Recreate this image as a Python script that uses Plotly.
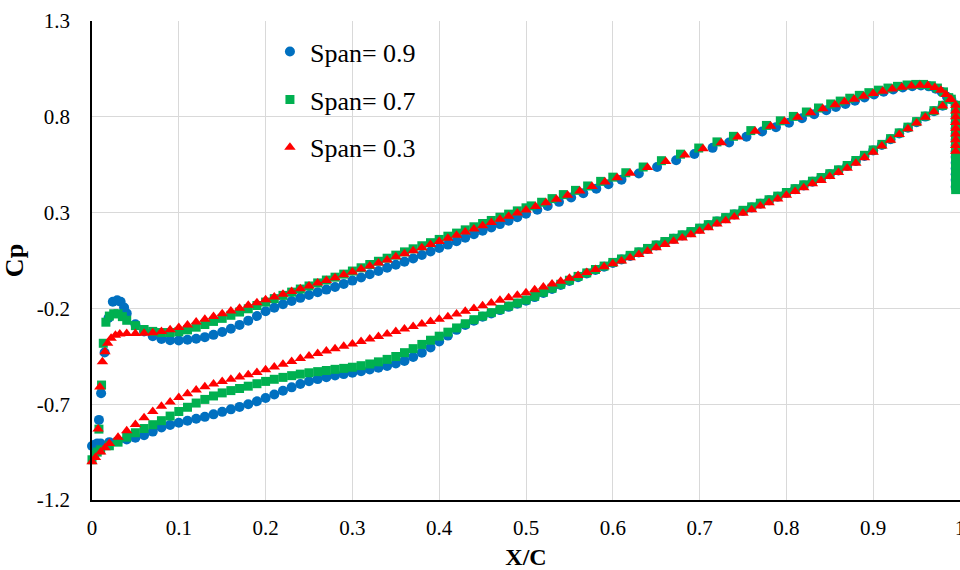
import plotly.graph_objects as go

# ---------------- data ----------------
series_names = ["Span= 0.9", "Span= 0.7", "Span= 0.3"]

x_ticks = [0.0, 0.1, 0.2, 0.3, 0.4, 0.5, 0.6, 0.7, 0.8, 0.9, 1.0]
x_tick_labels = ["0", "0.1", "0.2", "0.3", "0.4", "0.5", "0.6", "0.7", "0.8", "0.9", "1"]
y_ticks = [-1.2, -0.7, -0.2, 0.3, 0.8, 1.3]
y_tick_labels = ["-1.2", "-0.7", "-0.2", "0.3", "0.8", "1.3"]

# upper (suction) branch, forward part: common stations
x_upper_fore = [0.04, 0.05, 0.06, 0.07, 0.08, 0.09, 0.10, 0.11, 0.12, 0.13,
                0.14, 0.15, 0.16, 0.17, 0.18, 0.19, 0.20, 0.21, 0.22, 0.23,
                0.24, 0.25, 0.26, 0.27, 0.28, 0.29, 0.30, 0.31, 0.32, 0.33,
                0.34, 0.35, 0.36, 0.37, 0.38, 0.39, 0.40, 0.41, 0.42, 0.43,
                0.44, 0.45, 0.46, 0.47, 0.48, 0.49, 0.50]

# lower branch stations (common)
x_lower = [0.01, 0.02, 0.03, 0.04, 0.05, 0.06, 0.07, 0.08, 0.09, 0.10, 0.11, 0.12,
           0.13, 0.14, 0.15, 0.16, 0.17, 0.18, 0.19, 0.20, 0.21, 0.22, 0.23, 0.24,
           0.25, 0.26, 0.27, 0.28, 0.29, 0.30, 0.31, 0.32, 0.33, 0.34, 0.35, 0.36,
           0.37, 0.38, 0.39, 0.40, 0.41, 0.42, 0.43, 0.44, 0.45, 0.46, 0.47, 0.48,
           0.49, 0.50, 0.51, 0.52, 0.53, 0.54, 0.55, 0.56, 0.57, 0.58, 0.59, 0.60,
           0.61, 0.62, 0.63, 0.64, 0.65, 0.66, 0.67, 0.68, 0.69, 0.70, 0.71, 0.72,
           0.73, 0.74, 0.75, 0.76, 0.77, 0.78, 0.79, 0.80, 0.81, 0.82, 0.83, 0.84,
           0.85, 0.86, 0.87, 0.88, 0.89, 0.90, 0.91, 0.92, 0.93, 0.94, 0.95, 0.96,
           0.97, 0.98, 0.99]

# ---- Span = 0.9 (blue circles)
span09_le_x = [-0.004, 0.000, 0.003, 0.006, 0.008, 0.0105, 0.0145, 0.019, 0.024, 0.029, 0.033, 0.037]
span09_le_y = [-0.905, -0.918, -0.912, -0.905, -0.782, -0.643, -0.430, -0.250, -0.165, -0.158, -0.165, -0.195]
span09_upper_fore = [-0.226, -0.283, -0.320, -0.345, -0.360, -0.366, -0.367, -0.364, -0.358, -0.350,
                     -0.338, -0.323, -0.306, -0.286, -0.264, -0.240, -0.215, -0.196, -0.178, -0.161,
                     -0.145, -0.130, -0.116, -0.102, -0.088, -0.072, -0.055, -0.039, -0.022, -0.005,
                     0.012, 0.028, 0.044, 0.061, 0.079, 0.097, 0.115, 0.133, 0.151, 0.169,
                     0.187, 0.205, 0.222, 0.240, 0.258, 0.276, 0.294]
span09_upper_aft_x = [0.513, 0.525, 0.538, 0.552, 0.566, 0.581, 0.595, 0.610, 0.630, 0.651,
                      0.673, 0.694, 0.715, 0.734, 0.754, 0.772, 0.788, 0.803, 0.818, 0.832,
                      0.846, 0.857, 0.868, 0.879, 0.890, 0.901, 0.912, 0.923, 0.934, 0.945,
                      0.955, 0.964, 0.972, 0.979, 0.985]
span09_upper_aft_y = [0.315, 0.335, 0.356, 0.379, 0.401, 0.425, 0.448, 0.472, 0.504, 0.538,
                      0.573, 0.606, 0.638, 0.666, 0.696, 0.723, 0.746, 0.769, 0.792, 0.813,
                      0.834, 0.851, 0.867, 0.884, 0.901, 0.917, 0.931, 0.943, 0.953, 0.960,
                      0.963, 0.959, 0.947, 0.930, 0.905]
span09_lower = [-0.905, -0.898, -0.891, -0.884, -0.875, -0.862, -0.843, -0.822, -0.808, -0.797,
                -0.786, -0.776, -0.766, -0.753, -0.740, -0.727, -0.714, -0.700, -0.685, -0.668,
                -0.649, -0.630, -0.612, -0.595, -0.580, -0.569, -0.559, -0.550, -0.543, -0.536,
                -0.528, -0.519, -0.510, -0.500, -0.488, -0.474, -0.454, -0.431, -0.404, -0.373,
                -0.342, -0.312, -0.286, -0.264, -0.244, -0.226, -0.209, -0.192, -0.176, -0.160,
                -0.141, -0.120, -0.099, -0.078, -0.057, -0.037, -0.018, 0.000, 0.018, 0.037,
                0.055, 0.074, 0.092, 0.110, 0.128, 0.146, 0.163, 0.181, 0.198, 0.216,
                0.234, 0.253, 0.271, 0.290, 0.309, 0.327, 0.346, 0.364, 0.383, 0.402,
                0.422, 0.442, 0.461, 0.480, 0.500, 0.520, 0.543, 0.569, 0.596, 0.624,
                0.653, 0.683, 0.713, 0.743, 0.772, 0.801, 0.829, 0.858, 0.890]
span09_te_x = [0.995, 0.995, 0.995, 0.995, 0.995, 0.995, 0.995, 0.995, 0.995, 0.995, 0.995, 0.995, 0.995, 0.995, 0.995]
span09_te_y = [0.860, 0.830, 0.800, 0.770, 0.740, 0.710, 0.680, 0.650, 0.620, 0.590, 0.560, 0.530, 0.500, 0.470, 0.435]

# ---- Span = 0.7 (green squares)
span07_le_x = [0.000, 0.003, 0.006, 0.008, 0.011, 0.013, 0.016, 0.020, 0.025, 0.030, 0.035]
span07_le_y = [-0.990, -0.964, -0.950, -0.830, -0.600, -0.382, -0.272, -0.240, -0.228, -0.228, -0.243]
span07_upper_fore = [-0.262, -0.290, -0.310, -0.320, -0.326, -0.326, -0.322, -0.312, -0.298, -0.284,
                     -0.268, -0.252, -0.236, -0.219, -0.202, -0.185, -0.167, -0.149, -0.132, -0.115,
                     -0.099, -0.083, -0.067, -0.052, -0.037, -0.021, -0.005, 0.012, 0.029, 0.046,
                     0.062, 0.078, 0.095, 0.111, 0.127, 0.143, 0.160, 0.177, 0.193, 0.210,
                     0.226, 0.243, 0.259, 0.276, 0.292, 0.309, 0.325]
span07_upper_aft_x = [0.506, 0.518, 0.530, 0.543, 0.557, 0.571, 0.586, 0.600, 0.615, 0.635,
                      0.656, 0.678, 0.699, 0.720, 0.739, 0.759, 0.777, 0.793, 0.808, 0.823,
                      0.837, 0.851, 0.862, 0.873, 0.884, 0.895, 0.906, 0.917, 0.928, 0.939,
                      0.949, 0.958, 0.967, 0.974, 0.981, 0.987]
span07_upper_aft_y = [0.335, 0.354, 0.373, 0.394, 0.416, 0.439, 0.463, 0.485, 0.508, 0.538,
                      0.571, 0.605, 0.637, 0.669, 0.698, 0.728, 0.755, 0.779, 0.802, 0.825,
                      0.846, 0.867, 0.882, 0.897, 0.912, 0.926, 0.939, 0.950, 0.959, 0.966,
                      0.969, 0.969, 0.962, 0.950, 0.930, 0.900]
span07_lower = [-0.938, -0.917, -0.898, -0.872, -0.849, -0.827, -0.807, -0.786, -0.762, -0.738,
                -0.716, -0.694, -0.675, -0.657, -0.641, -0.629, -0.618, -0.606, -0.593, -0.581,
                -0.570, -0.560, -0.551, -0.543, -0.536, -0.530, -0.524, -0.518, -0.513, -0.507,
                -0.499, -0.490, -0.479, -0.466, -0.451, -0.431, -0.410, -0.388, -0.366, -0.345,
                -0.324, -0.302, -0.280, -0.259, -0.240, -0.222, -0.205, -0.188, -0.172, -0.156,
                -0.137, -0.116, -0.095, -0.074, -0.053, -0.033, -0.015, 0.003, 0.021, 0.040,
                0.058, 0.077, 0.095, 0.113, 0.131, 0.149, 0.166, 0.184, 0.201, 0.219,
                0.237, 0.256, 0.274, 0.293, 0.312, 0.330, 0.349, 0.367, 0.386, 0.405,
                0.425, 0.445, 0.464, 0.483, 0.503, 0.523, 0.546, 0.572, 0.599, 0.627,
                0.656, 0.686, 0.716, 0.746, 0.775, 0.804, 0.832, 0.860, 0.892]
span07_te_x = [0.995, 0.995, 0.995, 0.995, 0.995, 0.995, 0.995, 0.995, 0.995, 0.995, 0.995, 0.995, 0.995, 0.995, 0.995, 0.995]
span07_te_y = [0.860, 0.830, 0.800, 0.770, 0.740, 0.710, 0.680, 0.650, 0.620, 0.590, 0.560, 0.530, 0.500, 0.470, 0.440, 0.420]

# ---- Span = 0.3 (red triangles)
span03_le_x = [0.000, 0.004, 0.007, 0.009, 0.012, 0.015, 0.015, 0.018, 0.022, 0.027, 0.032]
span03_le_y = [-1.000, -0.978, -0.830, -0.610, -0.478, -0.426, -0.927, -0.382, -0.356, -0.340, -0.333]
span03_upper_fore = [-0.331, -0.331, -0.330, -0.327, -0.321, -0.312, -0.300, -0.286, -0.271, -0.257,
                     -0.242, -0.228, -0.213, -0.199, -0.184, -0.170, -0.155, -0.141, -0.126, -0.112,
                     -0.097, -0.083, -0.068, -0.054, -0.040, -0.025, -0.010, 0.005, 0.021, 0.037,
                     0.053, 0.069, 0.085, 0.101, 0.117, 0.133, 0.149, 0.166, 0.182, 0.199,
                     0.215, 0.232, 0.248, 0.265, 0.281, 0.298, 0.314]
span03_upper_aft_x = [0.511, 0.523, 0.535, 0.548, 0.562, 0.576, 0.591, 0.605, 0.620, 0.640,
                      0.661, 0.683, 0.704, 0.725, 0.744, 0.764, 0.782, 0.798, 0.813, 0.828,
                      0.842, 0.856, 0.867, 0.878, 0.889, 0.900, 0.911, 0.922, 0.933, 0.944,
                      0.954, 0.963, 0.971, 0.978, 0.984, 0.989]
span03_upper_aft_y = [0.332, 0.351, 0.370, 0.391, 0.413, 0.436, 0.460, 0.482, 0.505, 0.535,
                      0.567, 0.601, 0.633, 0.665, 0.694, 0.724, 0.751, 0.775, 0.798, 0.821,
                      0.842, 0.863, 0.878, 0.892, 0.907, 0.921, 0.934, 0.945, 0.954, 0.961,
                      0.965, 0.963, 0.953, 0.938, 0.916, 0.892]
span03_lower = [-0.950, -0.905, -0.872, -0.838, -0.806, -0.771, -0.738, -0.711, -0.688, -0.665,
                -0.645, -0.626, -0.609, -0.595, -0.582, -0.570, -0.558, -0.546, -0.534, -0.520,
                -0.506, -0.492, -0.477, -0.462, -0.448, -0.435, -0.422, -0.410, -0.398, -0.386,
                -0.373, -0.360, -0.347, -0.334, -0.321, -0.308, -0.295, -0.282, -0.269, -0.256,
                -0.243, -0.229, -0.215, -0.200, -0.186, -0.172, -0.158, -0.145, -0.132, -0.118,
                -0.103, -0.088, -0.073, -0.058, -0.043, -0.028, -0.012, 0.003, 0.018, 0.033,
                0.048, 0.064, 0.081, 0.098, 0.116, 0.133, 0.150, 0.168, 0.185, 0.203,
                0.221, 0.240, 0.258, 0.277, 0.296, 0.315, 0.334, 0.352, 0.371, 0.390,
                0.410, 0.430, 0.450, 0.468, 0.488, 0.509, 0.532, 0.558, 0.586, 0.615,
                0.647, 0.677, 0.707, 0.738, 0.768, 0.797, 0.826, 0.856, 0.890]
span03_te_x = [0.995, 0.995, 0.995, 0.995, 0.995, 0.995, 0.995, 0.995, 0.995]
span03_te_y = [0.860, 0.830, 0.800, 0.770, 0.740, 0.710, 0.680, 0.650, 0.620]

colors = ["#0070C0", "#00B050", "#FF0000"]
symbols = ["circle", "square", "triangle-up"]
sizes = [10, 9, 10]

series = [
    (span09_le_x, span09_le_y, span09_upper_fore, span09_upper_aft_x, span09_upper_aft_y,
     span09_lower, span09_te_x, span09_te_y),
    (span07_le_x, span07_le_y, span07_upper_fore, span07_upper_aft_x, span07_upper_aft_y,
     span07_lower, span07_te_x, span07_te_y),
    (span03_le_x, span03_le_y, span03_upper_fore, span03_upper_aft_x, span03_upper_aft_y,
     span03_lower, span03_te_x, span03_te_y),
]

SERIF = "Liberation Serif, Times New Roman, serif"

fig = go.Figure()
for i, (lex, ley, upf, upax, upay, lo, tex, tey) in enumerate(series):
    xs = list(lex) + list(x_lower) + list(x_upper_fore) + list(upax) + list(tex)
    ys = list(ley) + list(lo) + list(upf) + list(upay) + list(tey)
    fig.add_trace(go.Scatter(
        x=xs, y=ys, mode="markers", name=series_names[i],
        legendgroup="g%d" % i,
        cliponaxis=False,
        marker=dict(symbol=symbols[i], size=sizes[i], color=colors[i],
                    line=dict(width=0)),
    ))

fig.update_layout(
    width=960, height=570,
    margin=dict(l=92, r=0, t=21, b=70, pad=0),
    paper_bgcolor="white", plot_bgcolor="white",
    font=dict(family=SERIF, size=21, color="black"),
    showlegend=True,
    legend=dict(
        x=0.205, y=0.985, xanchor="left", yanchor="top",
        font=dict(family=SERIF, size=26, color="black"),
        bgcolor="rgba(0,0,0,0)", borderwidth=0,
        tracegroupgap=11,
    ),
)

fig.update_xaxes(
    range=[0, 1], tickvals=x_ticks, ticktext=x_tick_labels,
    showgrid=True, gridcolor="#D9D9D9", gridwidth=1,
    zeroline=False, showline=True, linecolor="black", linewidth=1.5,
    ticks="", ticklabelstandoff=8, ticklabeloverflow="allow",
    tickfont=dict(family=SERIF, size=21, color="black"),
    automargin=False,
    title=dict(text="<b>X/C</b>", font=dict(family=SERIF, size=24, color="black"), standoff=10),
)
fig.update_yaxes(
    range=[-1.2, 1.3], tickvals=y_ticks, ticktext=y_tick_labels,
    showgrid=True, gridcolor="#D9D9D9", gridwidth=1,
    zeroline=False, showline=True, linecolor="black", linewidth=1.5,
    ticks="", ticklabelstandoff=16,
    tickfont=dict(family=SERIF, size=21, color="black"),
    automargin=False,
    title=dict(text="<b>Cp</b>", font=dict(family=SERIF, size=26, color="black"), standoff=6),
)

fig.write_html("out.html", config={"displayModeBar": False})
